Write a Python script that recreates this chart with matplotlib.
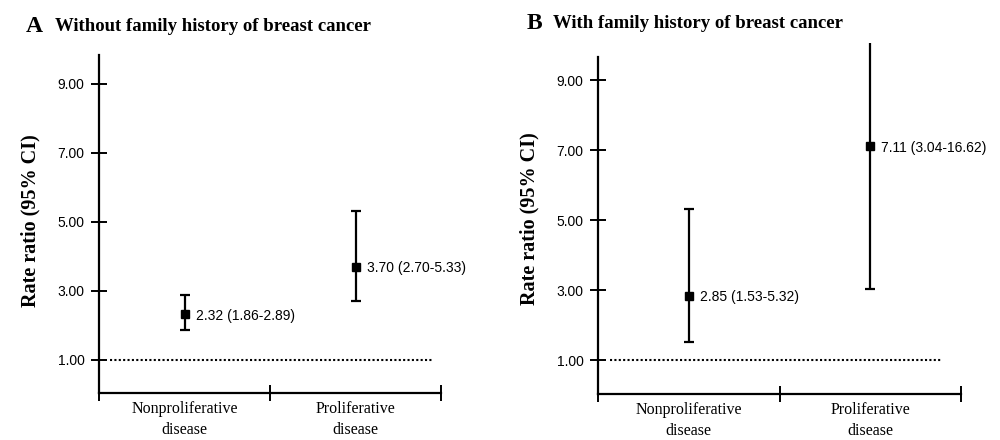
import numpy as np
import matplotlib.pyplot as plt

# data
categories = ["Nonproliferative\ndisease", "Proliferative\ndisease"]
rr_no_fh = [2.32, 3.70]
lo_no_fh = [1.86, 2.70]
hi_no_fh = [2.89, 5.33]
rr_fh = [2.85, 7.11]
lo_fh = [1.53, 3.04]
hi_fh = [5.32, 16.62]
yticks = [1.0, 3.0, 5.0, 7.0, 9.0]
panel_titles = ["Without family history of breast cancer", "With family history of breast cancer"]
panel_letters = ["A", "B"]

SERIF = "Liberation Serif"
SANS = "Liberation Sans"

fig = plt.figure(figsize=(10, 4.4), dpi=100)
axA = fig.add_axes([0.099, 0.1068, 0.342, 0.7855])
axB = fig.add_axes([0.598, 0.1045, 0.363, 0.7977])


def draw_panel(ax, rr, lo, hi, spine_top, ref_span):
    x = np.arange(len(rr)) + 0.5
    rr = np.array(rr)
    err = np.vstack([rr - np.array(lo), np.array(hi) - rr])
    ax.errorbar(x, rr, yerr=err, fmt="s", color="black", ms=6,
                ecolor="black", elinewidth=1.6, capsize=3.5, capthick=1.6,
                zorder=3)
    for xi, r, l, h in zip(x, rr, lo, hi):
        ax.annotate(f"{r:.2f} ({l:.2f}-{h:.2f})", (xi, r), xytext=(8, -1),
                    textcoords="offset points", va="center", ha="left",
                    fontsize=10, family=SANS)
    ax.hlines(1.0, ref_span[0], ref_span[1], colors="black",
              linestyles=(0, (1, 1.1)), lw=1.5)

    ax.set_xlim(0, 2)
    ax.set_ylim(0.04, 10.06)
    ax.set_xticks([0, 1, 2])
    ax.set_xticklabels([])
    ax.set_xticks(x, minor=True)
    ax.set_xticklabels(categories, minor=True, family=SERIF, fontsize=11.5,
                       linespacing=1.4)
    ax.tick_params(axis="x", which="minor", length=0, pad=6)
    ax.tick_params(axis="x", which="major", direction="inout", length=11, width=1.4)
    ax.set_yticks(yticks)
    ax.set_yticklabels([f"{v:.2f}" for v in yticks], family=SANS, fontsize=10)
    ax.tick_params(axis="y", direction="inout", length=11, width=1.4, pad=5)

    for s in ["top", "right"]:
        ax.spines[s].set_visible(False)
    ax.spines["left"].set_linewidth(1.6)
    ax.spines["bottom"].set_linewidth(1.6)
    ax.spines["left"].set_bounds(0.04, spine_top)
    ax.set_ylabel("Rate ratio (95% CI)", family=SERIF, fontweight="bold",
                  fontsize=14.5, labelpad=12)


draw_panel(axA, rr_no_fh, lo_no_fh, hi_no_fh, 9.84, (0.064, 1.947))
draw_panel(axB, rr_fh, lo_fh, hi_fh, 9.66, (0.066, 1.895))

fig.text(0.026, 0.927, panel_letters[0], family=SERIF, fontweight="bold", fontsize=17, va="baseline")
fig.text(0.055, 0.93, panel_titles[0], family=SERIF, fontweight="bold", fontsize=13.5, va="baseline")
fig.text(0.527, 0.934, panel_letters[1], family=SERIF, fontweight="bold", fontsize=17, va="baseline")
fig.text(0.553, 0.937, panel_titles[1], family=SERIF, fontweight="bold", fontsize=13.5, va="baseline")

fig.savefig("out.png", dpi=100)
